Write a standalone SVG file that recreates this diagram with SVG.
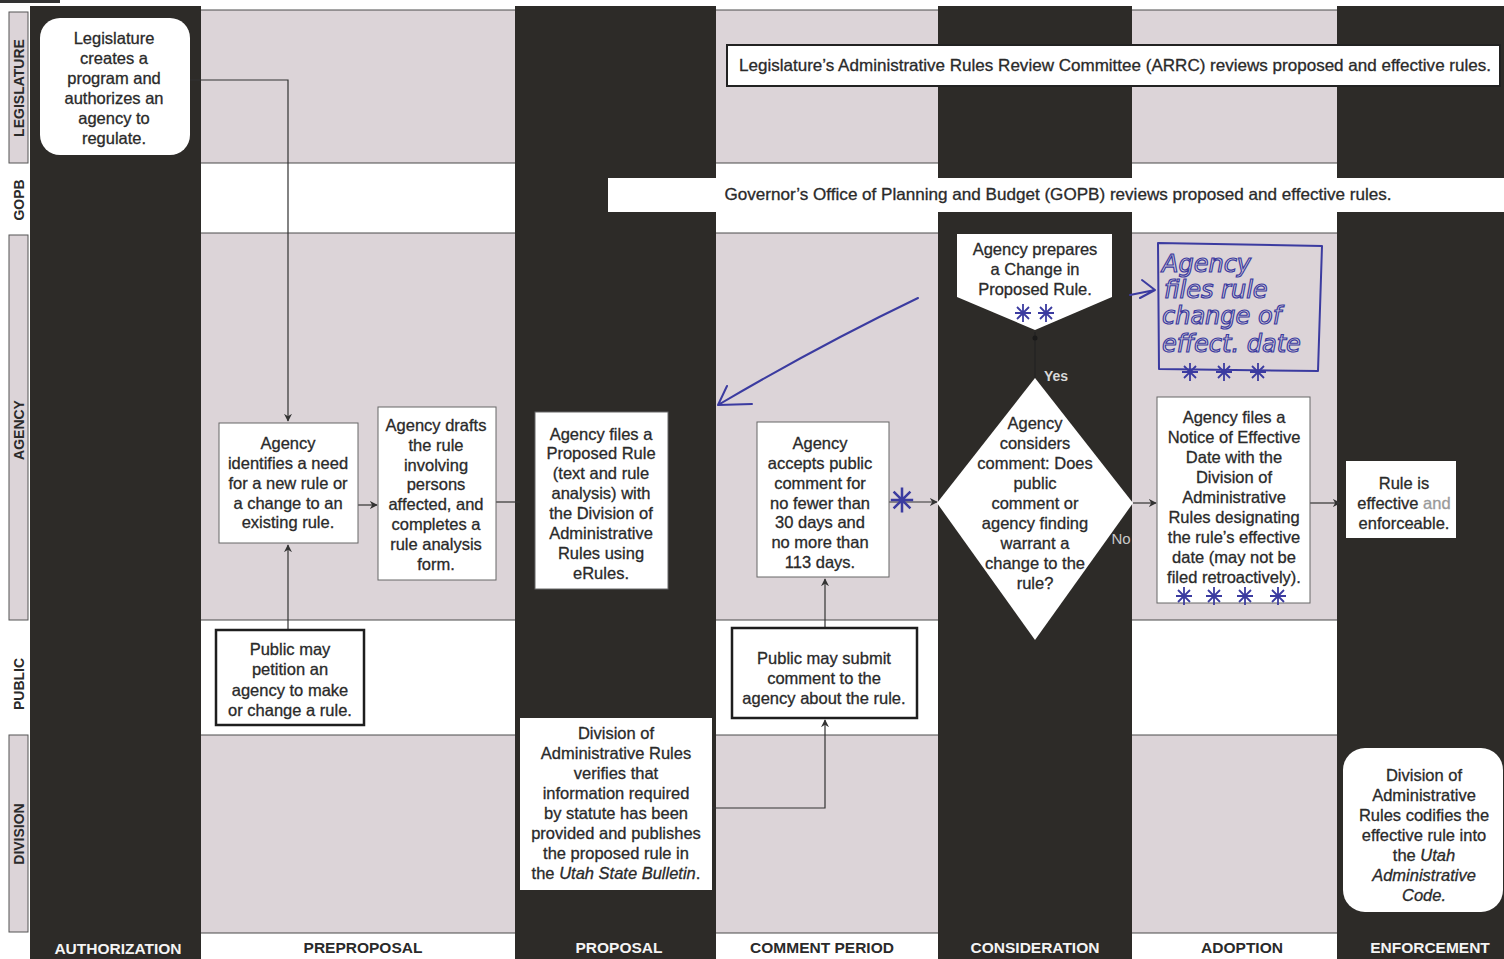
<svg xmlns="http://www.w3.org/2000/svg" width="1504" height="959" viewBox="0 0 1504 959">
<defs>
<style>
.dark{fill:#2d2b28}
.light{fill:#dcd4d8}
.lane{stroke:#4a4a4a;stroke-width:1;fill:none}
.box{fill:#fff;stroke:#666;stroke-width:1}
.pbox{fill:#fff;stroke:#1e1e1e;stroke-width:2.5}
.t{font-family:"Liberation Sans",Arial,sans-serif;font-size:16.5px;fill:#2a2a2a;stroke:#2a2a2a;stroke-width:0.3;text-anchor:middle}
.lbl{font-family:"Liberation Sans",Arial,sans-serif;font-size:14px;font-weight:bold;fill:#2a2a2a;text-anchor:middle}
.ph{font-family:"Liberation Sans",Arial,sans-serif;font-size:15.5px;font-weight:bold;text-anchor:middle}
.w{fill:#f4f4f4}
.k{fill:#2a2a2a}
.conn{stroke:#333;stroke-width:1.2;fill:none}
.ink{stroke:#3b3ba0;stroke-width:2;fill:none;stroke-linecap:round;stroke-linejoin:round}
.hw{font-family:"DejaVu Sans",sans-serif;font-style:italic;font-size:24px;fill:none;stroke:#3b3ba0;stroke-width:1.2}
</style>
<marker id="arr" viewBox="0 0 10 10" refX="9" refY="5" markerWidth="8" markerHeight="8" orient="auto-start-reverse" markerUnits="userSpaceOnUse">
<path d="M0,0 L10,5 L0,10 L3,5 z" fill="#333"/>
</marker>
<g id="star">
<path d="M-8,0 L8,0 M0,-9 L0,9 M-6,-6 L6,6 M-6,6 L6,-6" stroke="#3b3ba0" stroke-width="1.8" fill="none"/>
</g>
</defs>

<rect x="0" y="0" width="1504" height="959" fill="#ffffff"/>

<g id="background">
<rect class="light" x="201" y="10" width="314" height="153"/>
<rect class="light" x="716" y="10" width="222" height="153"/>
<rect class="light" x="1132" y="10" width="205" height="153"/>
<rect class="light" x="201" y="233" width="314" height="387"/>
<rect class="light" x="716" y="233" width="222" height="387"/>
<rect class="light" x="1132" y="233" width="205" height="387"/>
<rect class="light" x="201" y="735" width="314" height="198"/>
<rect class="light" x="716" y="735" width="222" height="198"/>
<rect class="light" x="1132" y="735" width="205" height="198"/>
<path class="lane" d="M201,10 H1337 M201,163 H1337 M201,233 H1337 M201,620 H1337 M201,735 H1337 M201,933 H1337"/>
<rect class="dark" x="30" y="6" width="171" height="953"/>
<rect class="dark" x="515" y="6" width="201" height="953"/>
<rect class="dark" x="938" y="6" width="194" height="953"/>
<rect class="dark" x="1337" y="6" width="167" height="953"/>
<rect x="0" y="0" width="60" height="3" fill="#333"/>
</g>

<g id="lane-labels">
<rect x="9" y="12" width="19" height="151" fill="#dcd4d8" stroke="#555" stroke-width="1"/>
<rect x="9" y="235" width="19" height="385" fill="#dcd4d8" stroke="#555" stroke-width="1"/>
<rect x="9" y="735" width="19" height="197" fill="#dcd4d8" stroke="#555" stroke-width="1"/>
<text class="lbl" transform="translate(24,88) rotate(-90)">LEGISLATURE</text>
<text class="lbl" transform="translate(24,200) rotate(-90)">GOPB</text>
<text class="lbl" transform="translate(24,430) rotate(-90)">AGENCY</text>
<text class="lbl" transform="translate(24,684) rotate(-90)">PUBLIC</text>
<text class="lbl" transform="translate(24,834) rotate(-90)">DIVISION</text>
</g>

<g id="phase-labels">
<text class="ph w" x="118" y="954">AUTHORIZATION</text>
<text class="ph k" x="363" y="953">PREPROPOSAL</text>
<text class="ph w" x="619" y="953">PROPOSAL</text>
<text class="ph k" x="822" y="953">COMMENT PERIOD</text>
<text class="ph w" x="1035" y="953">CONSIDERATION</text>
<text class="ph k" x="1242" y="953">ADOPTION</text>
<text class="ph w" x="1430" y="953">ENFORCEMENT</text>
</g>

<g id="connectors">
<path class="conn" d="M190,80 H288 V421" marker-end="url(#arr)"/>
<path class="conn" d="M288,630 V545" marker-end="url(#arr)"/>
<path class="conn" d="M358,505 H377" marker-end="url(#arr)"/>
<path class="conn" d="M496,502 H520"/>
<path class="conn" d="M711,808 H825 V720" marker-end="url(#arr)"/>
<path class="conn" d="M825,628 V579" marker-end="url(#arr)"/>
<path class="conn" d="M889,502 H937" marker-end="url(#arr)"/>
<path class="conn" d="M1133,503 H1156" marker-end="url(#arr)"/>
<path class="conn" d="M1310,503 H1340" marker-end="url(#arr)"/>
<path d="M1035,378 V332" stroke="#222" stroke-width="1.2"/>
<circle cx="1035" cy="338" r="2.5" fill="#1a1a1a"/>
<text x="1056" y="381" font-family="Liberation Sans,Arial,sans-serif" font-size="14" font-weight="bold" fill="#d8d8d8" text-anchor="middle">Yes</text>
<text x="1121" y="544" font-family="Liberation Sans,Arial,sans-serif" font-size="15" fill="#c8c8c8" text-anchor="middle">No</text>
</g>

<g id="arrc">
<rect x="727" y="45" width="773" height="41" fill="#fff" stroke="#222" stroke-width="2"/>
<text class="t" x="1115" y="71" textLength="752" lengthAdjust="spacingAndGlyphs">Legislature’s Administrative Rules Review Committee (ARRC) reviews proposed and effective rules.</text>
</g>
<g id="gopb">
<rect x="608" y="178" width="896" height="34" fill="#fff"/>
<text class="t" x="1058" y="200" textLength="667" lengthAdjust="spacingAndGlyphs">Governor’s Office of Planning and Budget (GOPB) reviews proposed and effective rules.</text>
</g>

<g id="n-legislature">
<rect x="40" y="18" width="150" height="137" rx="20" fill="#fff"/>
<text class="t" x="114" y="44">Legislature</text>
<text class="t" x="114" y="64">creates a</text>
<text class="t" x="114" y="84">program and</text>
<text class="t" x="114" y="104">authorizes an</text>
<text class="t" x="114" y="124">agency to</text>
<text class="t" x="114" y="144">regulate.</text>
</g>

<g id="n-identify">
<rect class="box" x="219" y="423" width="139" height="120"/>
<text class="t" x="288" y="449">Agency</text>
<text class="t" x="288" y="469">identifies a need</text>
<text class="t" x="288" y="489">for a new rule or</text>
<text class="t" x="288" y="509">a change to an</text>
<text class="t" x="288" y="528">existing rule.</text>
</g>

<g id="n-drafts">
<rect class="box" x="378" y="407" width="118" height="173"/>
<text class="t" x="436" y="431">Agency drafts</text>
<text class="t" x="436" y="451">the rule</text>
<text class="t" x="436" y="471">involving</text>
<text class="t" x="436" y="490">persons</text>
<text class="t" x="436" y="510">affected, and</text>
<text class="t" x="436" y="530">completes a</text>
<text class="t" x="436" y="550">rule analysis</text>
<text class="t" x="436" y="570">form.</text>
</g>

<g id="n-petition">
<rect class="pbox" x="216" y="630" width="148" height="95"/>
<text class="t" x="290" y="655">Public may</text>
<text class="t" x="290" y="675">petition an</text>
<text class="t" x="290" y="696">agency to make</text>
<text class="t" x="290" y="716">or change a rule.</text>
</g>

<g id="n-files-proposed">
<rect class="box" x="535" y="412" width="133" height="177"/>
<text class="t" x="601" y="440">Agency files a</text>
<text class="t" x="601" y="459">Proposed Rule</text>
<text class="t" x="601" y="479">(text and rule</text>
<text class="t" x="601" y="499">analysis) with</text>
<text class="t" x="601" y="519">the Division of</text>
<text class="t" x="601" y="539">Administrative</text>
<text class="t" x="601" y="559">Rules using</text>
<text class="t" x="601" y="579">eRules.</text>
</g>

<g id="n-division-verifies">
<rect x="520" y="718" width="192" height="172" fill="#fff"/>
<text class="t" x="616" y="739">Division of</text>
<text class="t" x="616" y="759">Administrative Rules</text>
<text class="t" x="616" y="779">verifies that</text>
<text class="t" x="616" y="799">information required</text>
<text class="t" x="616" y="819">by statute has been</text>
<text class="t" x="616" y="839">provided and publishes</text>
<text class="t" x="616" y="859">the proposed rule in</text>
<text class="t" x="616" y="879">the <tspan font-style="italic">Utah State Bulletin</tspan>.</text>
</g>

<g id="n-accepts">
<rect class="box" x="757" y="422" width="132" height="155"/>
<text class="t" x="820" y="449">Agency</text>
<text class="t" x="820" y="469">accepts public</text>
<text class="t" x="820" y="489">comment for</text>
<text class="t" x="820" y="509">no fewer than</text>
<text class="t" x="820" y="528">30 days and</text>
<text class="t" x="820" y="548">no more than</text>
<text class="t" x="820" y="568">113 days.</text>
</g>

<g id="n-public-comment">
<rect class="pbox" x="732" y="628" width="185" height="90"/>
<text class="t" x="824" y="664">Public may submit</text>
<text class="t" x="824" y="684">comment to the</text>
<text class="t" x="824" y="704">agency about the rule.</text>
</g>

<g id="n-prepares-change">
<polygon points="957,234 1112,234 1112,297 1035,330 957,297" fill="#fff"/>
<text class="t" x="1035" y="255">Agency prepares</text>
<text class="t" x="1035" y="275">a Change in</text>
<text class="t" x="1035" y="295">Proposed Rule.</text>
</g>

<g id="n-considers">
<polygon points="1035,378 1133,503 1035,640 937,503" fill="#fff"/>
<text class="t" x="1035" y="429">Agency</text>
<text class="t" x="1035" y="449">considers</text>
<text class="t" x="1035" y="469">comment:  Does</text>
<text class="t" x="1035" y="489">public</text>
<text class="t" x="1035" y="509">comment or</text>
<text class="t" x="1035" y="529">agency finding</text>
<text class="t" x="1035" y="549">warrant a</text>
<text class="t" x="1035" y="569">change to the</text>
<text class="t" x="1035" y="589">rule?</text>
</g>

<g id="n-notice">
<rect class="box" x="1157" y="397" width="153" height="206"/>
<text class="t" x="1234" y="423">Agency files a</text>
<text class="t" x="1234" y="443">Notice of Effective</text>
<text class="t" x="1234" y="463">Date with the</text>
<text class="t" x="1234" y="483">Division of</text>
<text class="t" x="1234" y="503">Administrative</text>
<text class="t" x="1234" y="523">Rules designating</text>
<text class="t" x="1234" y="543">the rule’s effective</text>
<text class="t" x="1234" y="563">date (may not be</text>
<text class="t" x="1234" y="583">filed retroactively).</text>
</g>

<g id="n-effective">
<rect x="1346" y="461" width="110" height="77" fill="#fff"/>
<text class="t" x="1404" y="489">Rule is</text>
<text class="t" x="1404" y="509">effective <tspan fill="#9a9a9a" stroke="#9a9a9a">and</tspan></text>
<text class="t" x="1404" y="529">enforceable.</text>
</g>

<g id="n-codifies">
<rect x="1343" y="748" width="160" height="164" rx="22" fill="#fff"/>
<text class="t" x="1424" y="781">Division of</text>
<text class="t" x="1424" y="801">Administrative</text>
<text class="t" x="1424" y="821">Rules codifies the</text>
<text class="t" x="1424" y="841">effective rule into</text>
<text class="t" x="1424" y="861">the <tspan font-style="italic">Utah</tspan></text>
<text class="t" x="1424" y="881" font-style="italic">Administrative</text>
<text class="t" x="1424" y="901" font-style="italic">Code.</text>
</g>

<g id="n-handwritten">
<path class="ink" d="M1158,243 L1322,246 L1318,371 L1159,369 Z"/>
<text class="hw" x="1162" y="272">Agency</text>
<text class="hw" x="1164" y="298">files rule</text>
<text class="hw" x="1162" y="324">change of</text>
<text class="hw" x="1162" y="352">effect. date</text>
<path class="ink" d="M1130,295 L1155,290 M1142,280 L1155,290 L1140,298"/>
</g>
<g id="ink-marks">
<path class="ink" d="M918,298 Q820,345 718,405 M727,386 L718,405 L752,404"/>
<use href="#star" x="1023" y="313"/>
<use href="#star" x="1046" y="313"/>
<use href="#star" x="1190" y="372"/>
<use href="#star" x="1224" y="372"/>
<use href="#star" x="1258" y="372"/>
<use href="#star" x="1184" y="596"/>
<use href="#star" x="1214" y="596"/>
<use href="#star" x="1245" y="596"/>
<use href="#star" x="1278" y="596"/>
<g transform="translate(902,500) scale(1.4)"><use href="#star"/></g>
</g>
</svg>
